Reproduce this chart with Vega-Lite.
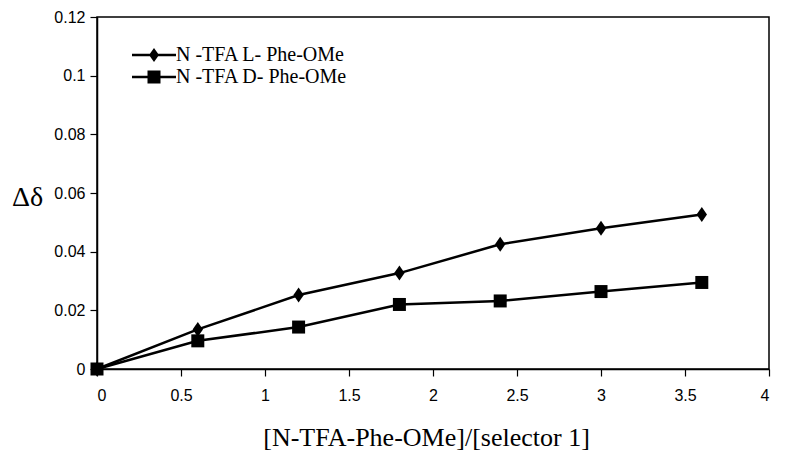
{
  "$schema": "https://vega.github.io/schema/vega-lite/v6.json",
  "autosize": "none",
  "width": 672,
  "height": 352,
  "padding": {"left": 97, "top": 17, "right": 17, "bottom": 85},
  "background": "white",
  "config": {
    "view": {"stroke": "black", "strokeWidth": 1.5},
    "axis": {"grid": false, "domainColor": "black", "tickColor": "black", "labelColor": "black", "titleColor": "black", "labelFont": "Liberation Sans", "labelFontSize": 16, "domainWidth": 1.5, "tickWidth": 1.2, "tickSize": 7}
  },
  "data": {
    "values": [
      {"x": 0, "y": 0, "series": "N -TFA L- Phe-OMe"},
      {"x": 0.6, "y": 0.0135, "series": "N -TFA L- Phe-OMe"},
      {"x": 1.2, "y": 0.0252, "series": "N -TFA L- Phe-OMe"},
      {"x": 1.8, "y": 0.0327, "series": "N -TFA L- Phe-OMe"},
      {"x": 2.4, "y": 0.0425, "series": "N -TFA L- Phe-OMe"},
      {"x": 3.0, "y": 0.048, "series": "N -TFA L- Phe-OMe"},
      {"x": 3.6, "y": 0.0527, "series": "N -TFA L- Phe-OMe"},
      {"x": 0, "y": 0, "series": "N -TFA D- Phe-OMe"},
      {"x": 0.6, "y": 0.0096, "series": "N -TFA D- Phe-OMe"},
      {"x": 1.2, "y": 0.0143, "series": "N -TFA D- Phe-OMe"},
      {"x": 1.8, "y": 0.022, "series": "N -TFA D- Phe-OMe"},
      {"x": 2.4, "y": 0.0232, "series": "N -TFA D- Phe-OMe"},
      {"x": 3.0, "y": 0.0264, "series": "N -TFA D- Phe-OMe"},
      {"x": 3.6, "y": 0.0295, "series": "N -TFA D- Phe-OMe"}
    ]
  },
  "encoding": {
    "x": {
      "field": "x", "type": "quantitative",
      "scale": {"domain": [0, 4], "nice": false},
      "axis": {
        "values": [0, 0.5, 1, 1.5, 2, 2.5, 3, 3.5, 4],
        "labelExpr": "'' + datum.value",
        "labelPadding": 11,
        "title": "[N-TFA-Phe-OMe]/[selector 1]",
        "titleFont": "Liberation Serif",
        "titleFontSize": 26,
        "titleFontWeight": "normal",
        "titleBaseline": "middle",
        "titleX": 329,
        "titleY": 68
      }
    },
    "y": {
      "field": "y", "type": "quantitative",
      "scale": {"domain": [0, 0.12], "nice": false},
      "axis": {
        "values": [0, 0.02, 0.04, 0.06, 0.08, 0.1, 0.12],
        "labelExpr": "'' + datum.value",
        "labelPadding": 5,
        "title": "Δδ",
        "titleFont": "Liberation Serif",
        "titleFontSize": 28,
        "titleFontWeight": "normal",
        "titleAngle": 0,
        "titleAlign": "center",
        "titleBaseline": "middle",
        "titleX": -70,
        "titleY": 180
      }
    }
  },
  "layer": [
    {
      "mark": {"type": "line", "color": "black", "strokeWidth": 2.5},
      "encoding": {"detail": {"field": "series"}}
    },
    {
      "mark": {"type": "point", "filled": true, "color": "black", "opacity": 1, "size": 169},
      "encoding": {
        "shape": {
          "field": "series", "type": "nominal",
          "scale": {
            "domain": ["N -TFA L- Phe-OMe", "N -TFA D- Phe-OMe"],
            "range": ["M0,-1.15L0.8,0L0,1.15L-0.8,0Z", "M-1,-1H1V1H-1Z"]
          },
          "legend": null
        }
      }
    },
    {
      "transform": [{"filter": "datum.x > 10"}],
      "mark": {"type": "point", "filled": true, "color": "black", "opacity": 1, "size": 4},
      "encoding": {
        "shape": {
          "field": "series", "type": "nominal",
          "scale": {
            "domain": ["N -TFA L- Phe-OMe", "N -TFA D- Phe-OMe"],
            "range": ["M-22,-1.25H22V1.25H-22Z M0,-7L5,0L0,7L-5,0Z", "M-22,-1.25H22V1.25H-22Z M-6.5,-6.5H6.5V6.5H-6.5Z"]
          },
          "legend": {
            "title": null,
            "orient": "none",
            "legendX": 47,
            "legendY": 28,
            "padding": 0,
            "rowPadding": 2,
            "symbolSize": 4,
            "labelOffset": 12,
            "labelLimit": 0,
            "labelFont": "Liberation Serif",
            "labelFontSize": 20,
            "labelColor": "black",
            "symbolFillColor": "black",
            "symbolOpacity": 1
          }
        }
      }
    }
  ],
  "resolve": {"scale": {"shape": "independent"}, "legend": {"shape": "independent"}}
}
